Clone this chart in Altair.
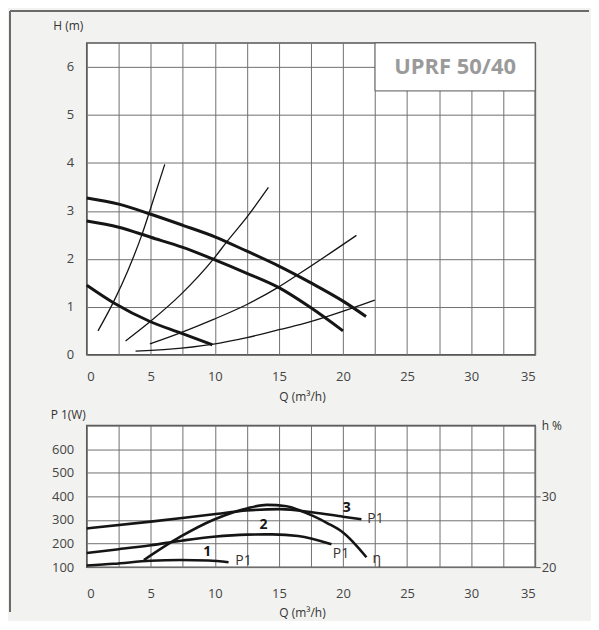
import altair as alt
import pandas as pd

# ---------------- Top chart: H (m) vs Q (m3/h) ----------------
# thick pump curves
t1_q = [0, 2.5, 5, 7.5, 10, 12.5, 15, 17.5, 20, 21.8]
t1_h = [3.27, 3.14, 2.93, 2.7, 2.46, 2.16, 1.85, 1.5, 1.12, 0.8]
t2_q = [0, 2.5, 5, 7.5, 10, 12.5, 15, 17.5, 20]
t2_h = [2.79, 2.66, 2.45, 2.24, 1.98, 1.7, 1.4, 0.98, 0.5]
t3_q = [0, 2.12, 4.98, 7.31, 9.8]
t3_h = [1.45, 1.08, 0.69, 0.46, 0.21]
# thin system curves
sa_q = [0.88, 2.12, 3.2, 4.3, 4.85, 6.09]
sa_h = [0.5, 1.12, 1.75, 2.5, 2.94, 3.97]
sb_q = [3.03, 4.98, 7.31, 9.9, 10.94, 12.5, 14.18]
sb_h = [0.29, 0.70, 1.25, 2.0, 2.36, 2.87, 3.49]
sc_q = [4.93, 7.31, 9.9, 12.5, 14.83, 16.64, 21.05]
sc_h = [0.23, 0.46, 0.74, 1.05, 1.39, 1.7, 2.49]
sd_q = [3.81, 6.5, 9.77, 12.5, 15.1, 16.64, 22.48]
sd_h = [0.08, 0.12, 0.22, 0.36, 0.53, 0.63, 1.14]

model_name = "UPRF 50/40"

# ---------------- Bottom chart: P1 (W) and efficiency ----------------
p1_q = [0, 2.12, 4.98, 7.31, 9.5, 11.07]
p1_w = [107, 114, 127, 130, 128, 121]
p2_q = [0, 2.5, 5, 7.5, 9.9, 12.5, 14.5, 16.5, 19.1]
p2_w = [160, 176, 193, 213, 229, 238, 239, 232, 197]
p3_q = [0, 5, 9.9, 12.5, 15.1, 17.7, 20, 21.44]
p3_w = [264, 293, 324, 340, 346, 332, 314, 303]
eta_q = [4.46, 7.31, 9.9, 12.5, 14.05, 15.6, 16.64, 17.7, 18.8, 20.0, 21.83]
eta_h = [21.0, 24.3, 26.7, 28.3, 28.8, 28.6, 28.0, 27.2, 26.2, 24.9, 21.4]

lbl_bold_text = ["1", "2", "3"]
lbl_bold_q = [9.4, 13.8, 20.3]
lbl_bold_p = [164, 279, 352]
lbl_text = ["P1", "P1", "P1", "η"]
lbl_q = [11.6, 19.2, 21.9, 22.3]
lbl_p = [127, 157, 303, 136]

FONT = "Open Sans"
GRID = "#707070"
INK = "#151515"


def long_df(pairs, xname, yname):
    rows = []
    for name, xs, ys in pairs:
        for i, (a, b) in enumerate(zip(xs, ys)):
            rows.append({"curve": name, xname: a, yname: b, "i": i})
    return pd.DataFrame(rows)


thick_df = long_df([("t1", t1_q, t1_h), ("t2", t2_q, t2_h), ("t3", t3_q, t3_h)], "Q", "H")
thin_df = long_df([("a", sa_q, sa_h), ("b", sb_q, sb_h), ("c", sc_q, sc_h), ("d", sd_q, sd_h)], "Q", "H")
pw_df = long_df([("1", p1_q, p1_w), ("2", p2_q, p2_w), ("3", p3_q, p3_w)], "Q", "P")
eta_df = pd.DataFrame({"Q": eta_q, "E": eta_h})
bold_df = pd.DataFrame({"Q": lbl_bold_q, "P": lbl_bold_p, "t": lbl_bold_text})
reg_df = pd.DataFrame({"Q": lbl_q, "P": lbl_p, "t": lbl_text})

x_vals = [i * 2.5 for i in range(15)]
x_label_expr = "datum.value % 5 == 0 ? datum.label : ''"


def x_enc(title_y):
    return alt.X(
        "Q:Q",
        scale=alt.Scale(domain=[0, 35], nice=False, zero=False),
        axis=alt.Axis(
            values=x_vals, labelExpr=x_label_expr, format="d", grid=True, ticks=False, tickSize=0,
            domain=False, labelPadding=title_y - 20, labelBaseline="middle",
            title="Q (m³/h)", titleX=216, titleY=title_y, titleBaseline="middle",
            titleAlign="center", titleFontSize=12, titleColor="#333",
        ),
    )


y_top = alt.Y(
    "H:Q",
    scale=alt.Scale(domain=[0, 6.5], nice=False, zero=False),
    axis=alt.Axis(
        values=[i * 0.5 for i in range(14)],
        labelExpr="datum.value % 1 == 0 ? datum.label : ''",
        format="d",
        grid=True, ticks=False, tickSize=0, domain=False, labelPadding=13,
        title="H (m)", titleAngle=0, titleX=-19, titleY=-17, titleAlign="center",
        titleBaseline="middle", titleFontSize=12, titleColor="#333",
    ),
)

x_top = x_enc(42)

box = alt.Chart(pd.DataFrame({"Q": [22.5], "Q2": [35], "H": [5.5], "H2": [6.5]})).mark_rect(
    fill="white", stroke="#555", strokeWidth=1
).encode(x=x_top, x2="Q2", y=y_top, y2="H2")

box_text = alt.Chart(pd.DataFrame({"Q": [28.75], "H": [6.0], "t": [model_name]})).mark_text(
    font=FONT, fontSize=22, fontWeight="bold", color="#9a9a9a", align="center", baseline="middle"
).encode(x=x_top, y=y_top, text="t:N")

thick = alt.Chart(thick_df).mark_line(color=INK, strokeWidth=3, interpolate="monotone").encode(
    x=x_top, y=y_top, detail="curve:N", order="i:Q"
)
thin = alt.Chart(thin_df).mark_line(color=INK, strokeWidth=1.3, interpolate="monotone").encode(
    x=x_top, y=y_top, detail="curve:N", order="i:Q"
)

one = pd.DataFrame({"k": [0]})
frame_left = alt.Chart(one).mark_rule(color="#6a6a6a", strokeWidth=2).encode(
    x=alt.value(-77), y=alt.value(-32), y2=alt.value(571)
)
frame_top = alt.Chart(one).mark_rule(color="#6a6a6a", strokeWidth=2).encode(
    x=alt.value(-77), x2=alt.value(504), y=alt.value(-32)
)

top = alt.layer(box, box_text, thin, thick, frame_left, frame_top).properties(width=450, height=313)

# ---------------- bottom ----------------
x_bot = x_enc(46)
y_p = alt.Y(
    "P:Q",
    scale=alt.Scale(domain=[100, 700], nice=False, zero=False),
    axis=alt.Axis(
        values=[100, 200, 300, 400, 500, 600, 700],
        labelExpr="datum.value < 700 ? datum.label : ''",
        format="d",
        grid=True, ticks=False, tickSize=0, domain=False, labelPadding=13,
        title="P 1(W)", titleAngle=0, titleX=-19, titleY=-11, titleAlign="center",
        titleBaseline="middle", titleFontSize=12, titleColor="#333",
    ),
)
y_e = alt.Y(
    "E:Q",
    scale=alt.Scale(domain=[20, 40], nice=False, zero=False),
    axis=alt.Axis(
        orient="right", values=[20, 30], format="d", grid=False, ticks=True, tickSize=5,
        tickColor="#555", domain=False, labelPadding=1,
        title="h %", titleAngle=0, titleX=6, titleY=0, titleAlign="left",
        titleBaseline="middle", titleFontSize=12, titleColor="#333",
    ),
)

pw = alt.Chart(pw_df).mark_line(color=INK, strokeWidth=2.6, interpolate="monotone").encode(
    x=x_bot, y=y_p, detail="curve:N", order="i:Q"
)
bold_lbl = alt.Chart(bold_df).mark_text(
    font=FONT, fontSize=14, fontWeight="bold", color=INK, baseline="middle", align="center"
).encode(x=x_bot, y=y_p, text="t:N")
reg_lbl = alt.Chart(reg_df).mark_text(
    font=FONT, fontSize=14, color="#333", baseline="middle", align="left"
).encode(x=x_bot, y=y_p, text="t:N")
eta = alt.Chart(eta_df).mark_line(color=INK, strokeWidth=2.6, interpolate="monotone").encode(
    x=x_bot, y=y_e
)

bottom = alt.layer(alt.layer(pw, bold_lbl, reg_lbl), eta).resolve_scale(y="independent").properties(
    width=450, height=142
)

chart = (
    alt.vconcat(top, bottom, spacing=71, bounds="flush")
    .properties(padding={"left": 0, "top": 0, "right": 0, "bottom": 0})
    .configure(background="#f2f2f0")
    .configure_view(fill="white", stroke="#555", strokeWidth=1.5)
    .configure_axis(
        gridColor=GRID, gridWidth=1, gridOpacity=1, labelFont=FONT, labelFontSize=13,
        labelColor="#444", titleFont=FONT, titleFontWeight="normal",
    )
)

chart.save("out.html", embed_options={"renderer": "svg", "actions": False})
